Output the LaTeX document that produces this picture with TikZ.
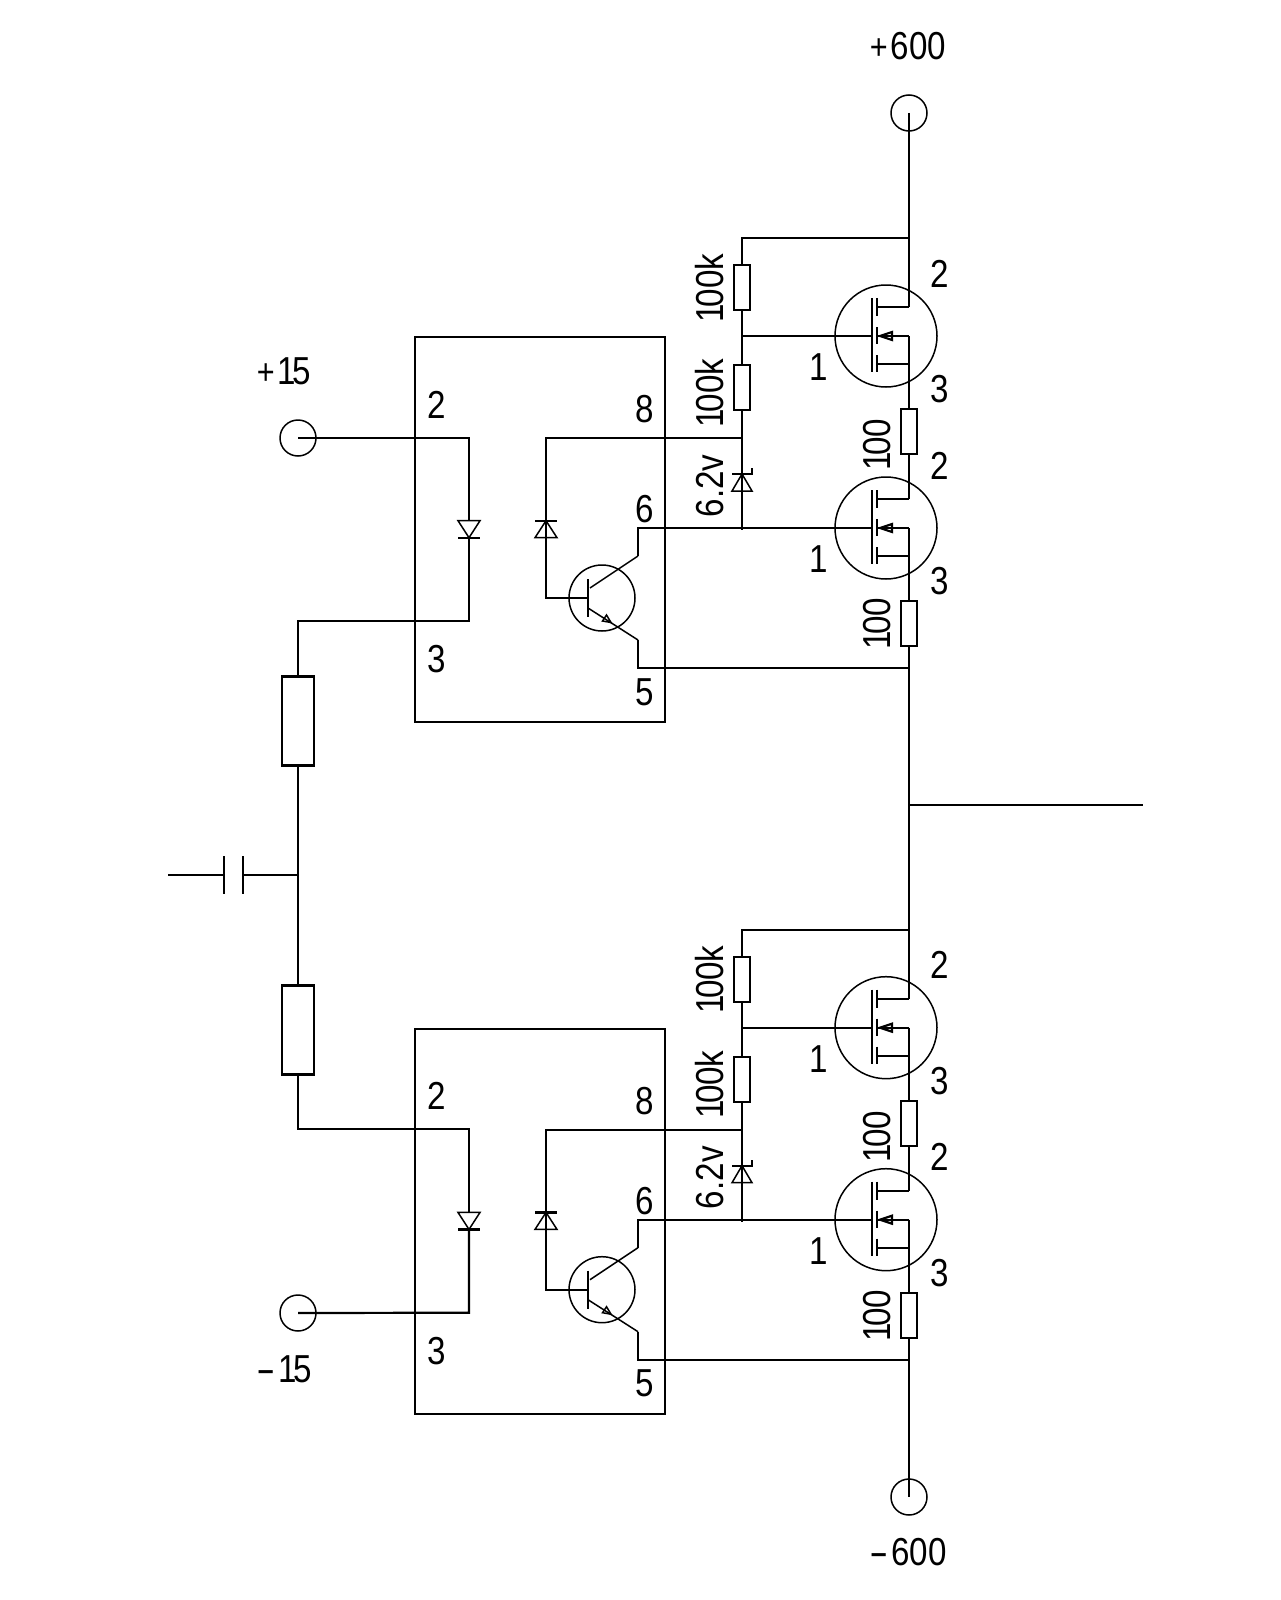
\documentclass[tikz,border=0pt]{standalone}
\usepackage{fontspec}
\setmainfont[FakeStretch=0.85]{Liberation Sans}
\newcommand{\smallplus}{{\fontsize{36}{36}\selectfont +}\kern3pt}
\newcommand{\widemin}{\scalebox{1.75}[1]{-}\kern3pt}
\newcommand{\one}{1\kern-3.5pt}
\begin{document}
\begin{tikzpicture}[x=1pt,y=-1pt]
\tikzstyle{wire} =[line width=2.2pt]
\tikzstyle{fine} =[line width=1.5pt]
\tikzstyle{res} =[draw,rectangle,line width=2.2pt,inner sep=0pt,minimum width=16pt,minimum height=45pt]
\tikzstyle{bigres} =[res,minimum width=32pt,minimum height=89pt]
\tikzstyle{term} =[draw,circle,fine,inner sep=0pt,minimum size=36pt]
\tikzstyle{mos} =[draw,circle,fine,inner sep=0pt,minimum size=102pt]
\tikzstyle{bjt} =[draw,circle,fine,inner sep=0pt,minimum size=66pt]
\tikzstyle{chip} =[draw,rectangle,line width=2.2pt,inner sep=0pt,minimum width=250pt,minimum height=385pt]
\tikzstyle{txt} =[inner sep=0pt,font=\fontsize{39}{39}\selectfont]
\tikzstyle{vtxt} =[txt,rotate=90]
\useasboundingbox (0,0) rectangle (1280,1600);

% terminals
\node[term](vpos) at (909,113){};
\node[term](vneg) at (909,1497){};
\node[term](vcc) at (298,438){};
\node[term](vee) at (298,1313){};
\node[txt](tpos) at (908,46){\smallplus 600};
\node[txt](tneg) at (908,1552){\widemin 600};
\node[txt](tcc) at (284,371){\smallplus\one 5};
\node[txt](tee) at (284,1369){\widemin\one 5};

% two optocoupler halves
\foreach \s/\dy in {u/0,l/691.7}{
\begin{scope}[yshift=-\dy pt]
\node[chip](box\s) at (540,529.5){};
\node[txt](p2\s) at (437,404.5){2};
\node[txt](p3\s) at (437,659){3};
\node[txt](p8\s) at (644.5,409){8};
\node[txt](p6\s) at (644.5,509){6};
\node[txt](p5\s) at (644.5,692){5};

% input diode
\coordinate (dia\s) at (469,520.7);
\coordinate (dib\s) at (469,537.7);
\draw[fine] (dia\s) +(-11,0) -- +(11,0) -- (dib\s) -- cycle;
\draw[wire] (dib\s) +(-11,0) -- +(11,0);

% photodiode and transistor
\node[bjt](tr\s) at (602,598){};
\coordinate (sup\s) at (742,438);
\coordinate (cor\s) at (546,438);
\coordinate (phb\s) at (546,598);
\coordinate (bas\s) at (588,598);
\coordinate (pha\s) at (546,520.7);
\coordinate (phc\s) at (546,537.7);
\coordinate (col\s) at (638,528);
\coordinate (cok\s) at (638,556);
\coordinate (coi\s) at (590,588);
\coordinate (emo\s) at (638,668);
\coordinate (emk\s) at (638,640);
\coordinate (emi\s) at (588,608);
\draw[wire] (sup\s) -- (cor\s) -- (phb\s) -- (bas\s);
\draw[fine] (phc\s) +(-11,0) -- +(11,0) -- (pha\s) -- cycle;
\draw[wire] (pha\s) +(-11,0) -- +(11,0);
\draw[wire] (588,579) -- (588,617);
\draw[fine] (coi\s) -- (cok\s);
\draw[fine] (emi\s) -- (emk\s);
\draw[fine] (611,622.5) -- (602.5,621) -- (606.5,615) -- cycle;

% mosfets
\foreach \m/\my in {a/0,b/192}{
\begin{scope}[yshift=-\my pt]
\node[mos](q\m\s) at (886,336){};
\coordinate (gt\m\s) at (872,336);
\coordinate (dr\m\s) at (909,307);
\coordinate (so\m\s) at (909,336);
\coordinate (lo\m\s) at (909,364);
\draw[wire] (872,298) -- (872,372);
\draw[wire] (877,298) -- (877,316);
\draw[wire] (877,327) -- (877,344);
\draw[wire] (877,355) -- (877,372);
\draw[wire] (dr\m\s) -- (877,307);
\draw[wire] (so\m\s) -- (877,336);
\draw[wire] (lo\m\s) -- (877,364);
\draw[wire] (880,336) -- (892,332) -- (892,340) -- cycle;
\node[txt](pg\m\s) at (819,367){1};
\node[txt](pd\m\s) at (940,273.5){2};
\node[txt](ps\m\s) at (940,389){3};
\end{scope}
}

% divider and source resistors
\node[res](ra\s) at (742,287.5){};
\node[res](rb\s) at (742,387.5){};
\node[res](rc\s) at (909,431.5){};
\node[res](rd\s) at (909,623.5){};
\node[vtxt](la\s) at (710,288){\one 00k};
\node[vtxt](lb\s) at (710,393){\one 00k};
\node[vtxt](lz\s) at (710,486){6.2v};
\node[vtxt](lc\s) at (877,445){\one 00};
\node[vtxt](ld\s) at (877,624){\one 00};

\coordinate (top\s) at (909,238);
\coordinate (gnd\s) at (909,668);
\coordinate (gaa\s) at (742,336);
\coordinate (gab\s) at (742,528);
\coordinate (zeb\s) at (742,530);
\coordinate (zea\s) at (742,474);
\coordinate (zec\s) at (742,491);
\draw[wire] (top\s) -- (dra\s);
\draw[wire] (top\s) -| (ra\s.north);
\draw[wire] (ra\s.south) -- (rb\s.north);
\draw[wire] (rb\s.south) -- (zeb\s);
\draw[wire] (gaa\s) -- (gta\s);
\draw[wire] (cok\s) -- (col\s) -- (gtb\s);
\draw[wire] (soa\s) -- (rc\s.north);
\draw[wire] (rc\s.south) -- (drb\s);
\draw[wire] (sob\s) -- (rd\s.north);
\draw[wire] (rd\s.south) -- (gnd\s);
\draw[wire] (emk\s) -- (emo\s) -- (gnd\s);
\draw[fine] (zea\s) +(0,0) -- (732,491) -- (752,491) -- cycle;
\draw[wire] (732,474) -- (752,474) -- (752,468);
\end{scope}
}

% input network
\node[bigres](ri) at (298,721){};
\node[bigres](rj) at (298,1030){};
\coordinate (dju) at (469,438);
\coordinate (dku) at (469,620.7);
\coordinate (dlu) at (298,620.7);
\coordinate (djl) at (469,1312.7);
\coordinate (dkl) at (469,1129);
\coordinate (dll) at (298,1129);
\coordinate (mid) at (298,875);
\coordinate (ca) at (243,875);
\coordinate (cb) at (224,875);
\coordinate (cin) at (168,875);
\draw[wire] (vcc.center) -- (dju) -- (diau);
\draw[wire] (dibu) -- (dku) -- (dlu) -- (ri.north);
\draw[wire] (rj.south) -- (dll) -- (dkl) -- (dial);
\draw[wire] (dibl) -- (djl) -- (vee.center);
\draw[wire] (ri.south) -- (rj.north);
\draw[wire] (mid) -- (ca);
\draw[wire] (cb) -- (cin);
\draw[wire] (ca) +(0,-19) -- +(0,19);
\draw[wire] (cb) +(0,-19) -- +(0,19);

% main rail and output
\coordinate (outa) at (909,805);
\coordinate (outb) at (1143,805);
\draw[wire] (vpos.center) -- (topu);
\draw[wire] (gndu) -- (topl);
\draw[wire] (gndl) -- (vneg.center);
\draw[wire] (outa) -- (outb);
\end{tikzpicture}
\end{document}
